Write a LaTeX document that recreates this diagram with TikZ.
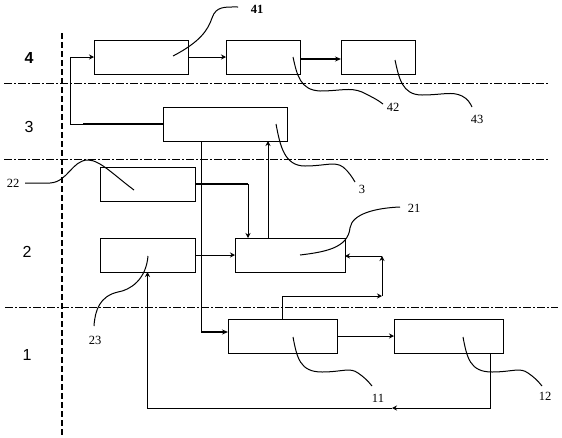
\documentclass[tikz,border=0pt]{standalone}
\usepackage{fontspec}
\setmainfont{Liberation Serif}
\newfontfamily\secfont{Liberation Sans}
\usetikzlibrary{arrows.meta}
\begin{document}
\begin{tikzpicture}[x=1pt,y=-1pt,
  box/.style={draw,line width=0.9pt,minimum width=#1,minimum height=34pt,inner sep=0pt,outer sep=0pt},
  conn/.style={line width=0.9pt,-{Stealth[length=5pt,width=5pt]}},
  plain/.style={line width=0.9pt},
  thickln/.style={line width=1.8pt},
  lead/.style={line width=1pt},
  num/.style={font=\fontsize{12.5}{14}\selectfont,inner sep=0pt},
  sec/.style={font=\secfont\fontsize{16}{18}\selectfont,inner sep=0pt},
  zone/.style={line width=0.8pt,dash pattern=on 8pt off 2pt on 2pt off 2pt},
  axis/.style={line width=1.6pt,dash pattern=on 6pt off 3pt}]
\useasboundingbox (0,0) rectangle (562,437);
% zone lines
\draw[zone] (4,83) -- (548,83);
\draw[zone] (4,159) -- (548,159);
\draw[zone] (5,307) -- (558,307);
\draw[axis] (62,33) -- (62,437);
% section labels
\node[sec,font=\secfont\bfseries\fontsize{16}{18}\selectfont] (s4) at (29,58) {4};
\node[sec] (s3) at (29,127) {3};
\node[sec] (s2) at (27,252) {2};
\node[sec] (s1) at (27,355) {1};
% boxes
\node[box=94pt] (b41) at (141,57) {};
\node[box=74pt] (b42) at (263,57) {};
\node[box=74pt] (b43) at (378,57) {};
\node[box=124pt] (b3) at (225,124) {};
\node[box=95pt] (b22) at (147.5,184) {};
\node[box=95pt] (b23) at (147.5,255) {};
\node[box=110pt] (b21) at (290,255) {};
\node[box=109pt] (b11) at (282.5,336) {};
\node[box=109pt] (b12) at (448.5,336) {};
% connectors
\draw[conn] (b41.east) -- (b42.west);
\draw[thickln,-{Stealth[length=6pt,width=5pt]}] ([yshift=-2pt]b42.east) -- ([yshift=-2pt]b43.west);
\coordinate (k3) at (70,124);
\draw[conn] (b3.west) -- (k3) |- (b41.west);
\draw[thickln] (b3.west) -- ++(-80,0);
\coordinate (k22) at (248,184);
\draw[thickln] (b22.east) -- (k22);
\draw[conn] (k22) -- (k22 |- b21.north);
\draw[conn] (b23.east) -- (b21.west);
\draw[conn] ([xshift=-22pt]b21.north) -- ([xshift=-22pt]b21.north |- b3.south);
\coordinate (k3b) at (201,332);
\draw[plain] ([xshift=-24pt]b3.south) -- (k3b);
\draw[thickln,-{Stealth[length=6pt,width=5pt]}] (k3b) -- (k3b -| b11.west);
\draw[conn] (b11.east) -- (b12.west);
\coordinate (c1) at (382,296);
\coordinate (c2) at (382,256);
\draw[conn] (b11.north) |- (c1);
\draw[conn] (c1) -- (c2);
\draw[conn] (c2) -- (c2 -| b21.east);
\coordinate (d1) at (490,408);
\coordinate (d2) at (392,408);
\draw[conn] ([xshift=41.5pt]b12.south) -- (d1) -- (d2);
\draw[conn] (d2) -- (b23.south |- d2) -- (b23.south);
% labels
\node[num,font=\bfseries\fontsize{12.5}{14}\selectfont] (l41) at (257,9) {41};
\node[num] (l42) at (393,107) {42};
\node[num] (l43) at (477,119) {43};
\node[num] (l3) at (362,189) {3};
\node[num] (l21) at (414,208) {21};
\node[num] (l22) at (13,183) {22};
\node[num] (l23) at (95,340) {23};
\node[num] (l11) at (378,398) {11};
\node[num] (l12) at (545,396) {12};
% leaders
\draw[lead] (173,56) .. controls (200,42) and (208,30) .. (212,18) .. controls (216,6) and (225,7) .. (238,7);
\draw[lead] (293,57) .. controls (297,75) and (300,90) .. (320,91) .. controls (340,91) and (350,87) .. (362,92) .. controls (372,97) and (378,100) .. (383,104);
\draw[lead] (395,60) .. controls (399,78) and (402,95) .. (422,95) .. controls (442,95) and (452,91) .. (462,96) .. controls (468,99) and (470,103) .. (472,107);
\draw[lead] (276,124) .. controls (280,145) and (284,166) .. (305,166) .. controls (325,166) and (335,161) .. (343,167) .. controls (349,172) and (352,177) .. (355,182);
\draw[lead] (300,255) .. controls (325,252) and (348,248) .. (350,228) .. controls (352,214) and (375,208) .. (400,207);
\draw[lead] (134,190) .. controls (115,176) and (100,160) .. (88,160) .. controls (72,160) and (68,182) .. (50,183) -- (25,183);
\draw[lead] (148,256) .. controls (146,280) and (130,290) .. (118,292) .. controls (100,296) and (95,310) .. (94,326);
\draw[lead] (293,337) .. controls (297,358) and (300,372) .. (322,372) .. controls (342,372) and (350,367) .. (358,373) .. controls (364,377) and (368,381) .. (372,386);
\draw[lead] (463,337) .. controls (467,358) and (470,372) .. (492,372) .. controls (512,372) and (520,367) .. (528,373) .. controls (534,377) and (538,381) .. (542,386);
\end{tikzpicture}
\end{document}
